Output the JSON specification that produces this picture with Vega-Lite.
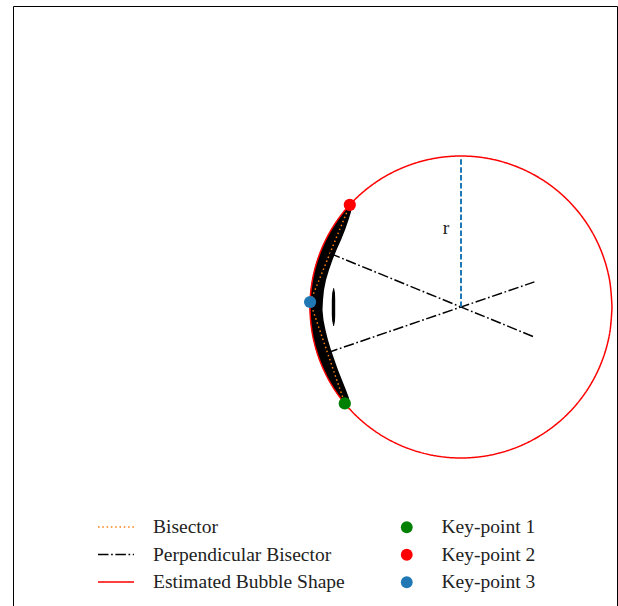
{
  "$schema": "https://vega.github.io/schema/vega-lite/v6.json",
  "width": 604,
  "height": 604,
  "autosize": {"type": "none"},
  "padding": {"left": 13, "top": 6, "right": 1, "bottom": 0},
  "background": "white",
  "config": {"view": {"stroke": "#000000", "strokeWidth": 1}, "font": "Liberation Serif"},
  "datasets": {
    "band": [
      {"part": "arc", "y": 204, "xo": 350, "xi": 352},
      {"part": "arc", "y": 212, "xo": 343.5, "xi": 351},
      {"part": "arc", "y": 220, "xo": 337.5, "xi": 348.5},
      {"part": "arc", "y": 230, "xo": 331, "xi": 345},
      {"part": "arc", "y": 240, "xo": 325.5, "xi": 341},
      {"part": "arc", "y": 250, "xo": 321, "xi": 336.5},
      {"part": "arc", "y": 260, "xo": 317.2, "xi": 332.5},
      {"part": "arc", "y": 270, "xo": 314.3, "xi": 329},
      {"part": "arc", "y": 280, "xo": 312.1, "xi": 326},
      {"part": "arc", "y": 290, "xo": 310.6, "xi": 324},
      {"part": "arc", "y": 300, "xo": 309.8, "xi": 323},
      {"part": "arc", "y": 310, "xo": 309.7, "xi": 322.5},
      {"part": "arc", "y": 320, "xo": 310.3, "xi": 323.5},
      {"part": "arc", "y": 330, "xo": 311.5, "xi": 325.5},
      {"part": "arc", "y": 340, "xo": 313.4, "xi": 328},
      {"part": "arc", "y": 350, "xo": 316, "xi": 331},
      {"part": "arc", "y": 360, "xo": 319.3, "xi": 334.5},
      {"part": "arc", "y": 370, "xo": 323.9, "xi": 338},
      {"part": "arc", "y": 380, "xo": 328.5, "xi": 342},
      {"part": "arc", "y": 390, "xo": 334.5, "xi": 346},
      {"part": "arc", "y": 398, "xo": 340.2, "xi": 349},
      {"part": "arc", "y": 405, "xo": 345.5, "xi": 349.5},
      {"part": "bar", "y": 288, "xo": 333.4, "xi": 334},
      {"part": "bar", "y": 293, "xo": 332.2, "xi": 335},
      {"part": "bar", "y": 300, "xo": 331.8, "xi": 335.2},
      {"part": "bar", "y": 315, "xo": 331.8, "xi": 335.2},
      {"part": "bar", "y": 321, "xo": 332.2, "xi": 335},
      {"part": "bar", "y": 326, "xo": 333.3, "xi": 334}
    ],
    "lines": [
      {"series": "Bisector", "seg": "b1", "i": 0, "x": 349.8, "y": 204.8},
      {"series": "Bisector", "seg": "b1", "i": 1, "x": 310.1, "y": 302},
      {"series": "Bisector", "seg": "b2", "i": 0, "x": 310.1, "y": 302},
      {"series": "Bisector", "seg": "b2", "i": 1, "x": 344.8, "y": 403.4},
      {"series": "Perpendicular Bisector", "seg": "p1", "i": 0, "x": 330, "y": 253.4},
      {"series": "Perpendicular Bisector", "seg": "p1", "i": 1, "x": 533.1, "y": 336.5},
      {"series": "Perpendicular Bisector", "seg": "p2", "i": 0, "x": 327.45, "y": 352.7},
      {"series": "Perpendicular Bisector", "seg": "p2", "i": 1, "x": 534.4, "y": 281.9},
      {"series": "Estimated Bubble Shape", "seg": "c", "i": 0, "x": 612, "y": 307},
      {"series": "Estimated Bubble Shape", "seg": "c", "i": 1, "x": 609.7, "y": 280.8},
      {"series": "Estimated Bubble Shape", "seg": "c", "i": 2, "x": 602.9, "y": 255.4},
      {"series": "Estimated Bubble Shape", "seg": "c", "i": 3, "x": 591.8, "y": 231.5},
      {"series": "Estimated Bubble Shape", "seg": "c", "i": 4, "x": 576.7, "y": 209.9},
      {"series": "Estimated Bubble Shape", "seg": "c", "i": 5, "x": 558.1, "y": 191.3},
      {"series": "Estimated Bubble Shape", "seg": "c", "i": 6, "x": 536.5, "y": 176.2},
      {"series": "Estimated Bubble Shape", "seg": "c", "i": 7, "x": 512.6, "y": 165.1},
      {"series": "Estimated Bubble Shape", "seg": "c", "i": 8, "x": 487.2, "y": 158.3},
      {"series": "Estimated Bubble Shape", "seg": "c", "i": 9, "x": 461, "y": 156},
      {"series": "Estimated Bubble Shape", "seg": "c", "i": 10, "x": 434.8, "y": 158.3},
      {"series": "Estimated Bubble Shape", "seg": "c", "i": 11, "x": 409.4, "y": 165.1},
      {"series": "Estimated Bubble Shape", "seg": "c", "i": 12, "x": 385.5, "y": 176.2},
      {"series": "Estimated Bubble Shape", "seg": "c", "i": 13, "x": 363.9, "y": 191.3},
      {"series": "Estimated Bubble Shape", "seg": "c", "i": 14, "x": 345.3, "y": 209.9},
      {"series": "Estimated Bubble Shape", "seg": "c", "i": 15, "x": 330.2, "y": 231.5},
      {"series": "Estimated Bubble Shape", "seg": "c", "i": 16, "x": 319.1, "y": 255.4},
      {"series": "Estimated Bubble Shape", "seg": "c", "i": 17, "x": 312.3, "y": 280.8},
      {"series": "Estimated Bubble Shape", "seg": "c", "i": 18, "x": 310, "y": 307},
      {"series": "Estimated Bubble Shape", "seg": "c", "i": 19, "x": 312.3, "y": 333.2},
      {"series": "Estimated Bubble Shape", "seg": "c", "i": 20, "x": 319.1, "y": 358.6},
      {"series": "Estimated Bubble Shape", "seg": "c", "i": 21, "x": 330.2, "y": 382.5},
      {"series": "Estimated Bubble Shape", "seg": "c", "i": 22, "x": 345.3, "y": 404.1},
      {"series": "Estimated Bubble Shape", "seg": "c", "i": 23, "x": 363.9, "y": 422.7},
      {"series": "Estimated Bubble Shape", "seg": "c", "i": 24, "x": 385.5, "y": 437.8},
      {"series": "Estimated Bubble Shape", "seg": "c", "i": 25, "x": 409.4, "y": 448.9},
      {"series": "Estimated Bubble Shape", "seg": "c", "i": 26, "x": 434.8, "y": 455.7},
      {"series": "Estimated Bubble Shape", "seg": "c", "i": 27, "x": 461, "y": 458},
      {"series": "Estimated Bubble Shape", "seg": "c", "i": 28, "x": 487.2, "y": 455.7},
      {"series": "Estimated Bubble Shape", "seg": "c", "i": 29, "x": 512.6, "y": 448.9},
      {"series": "Estimated Bubble Shape", "seg": "c", "i": 30, "x": 536.5, "y": 437.8},
      {"series": "Estimated Bubble Shape", "seg": "c", "i": 31, "x": 558.1, "y": 422.7},
      {"series": "Estimated Bubble Shape", "seg": "c", "i": 32, "x": 576.7, "y": 404.1},
      {"series": "Estimated Bubble Shape", "seg": "c", "i": 33, "x": 591.8, "y": 382.5},
      {"series": "Estimated Bubble Shape", "seg": "c", "i": 34, "x": 602.9, "y": 358.6},
      {"series": "Estimated Bubble Shape", "seg": "c", "i": 35, "x": 609.7, "y": 333.2},
      {"series": "Estimated Bubble Shape", "seg": "c", "i": 36, "x": 612, "y": 307}
    ],
    "rline": [
      {"i": 0, "x": 461, "y": 307},
      {"i": 1, "x": 461, "y": 157}
    ],
    "label": [
      {"text": "r", "x": 446, "y": 228}
    ],
    "keys": [
      {"key": "Key-point 1", "x": 344.8, "y": 403.4},
      {"key": "Key-point 2", "x": 349.8, "y": 204.8},
      {"key": "Key-point 3", "x": 310.1, "y": 302}
    ]
  },
  "layer": [
    {
      "data": {"name": "band"},
      "mark": {"type": "area", "orient": "horizontal", "color": "#000000", "interpolate": "linear"},
      "encoding": {
        "y": {"field": "y", "type": "quantitative", "scale": {"domain": [6, 610], "reverse": true, "nice": false, "zero": false}, "axis": null},
        "x": {"field": "xo", "type": "quantitative", "scale": {"domain": [13, 617], "nice": false, "zero": false}, "axis": null},
        "x2": {"field": "xi"},
        "detail": {"field": "part", "type": "nominal"}
      }
    },
    {
      "data": {"name": "lines"},
      "mark": {"type": "line", "strokeWidth": 1.5, "interpolate": "cardinal", "strokeCap": "butt"},
      "encoding": {
        "x": {"field": "x", "type": "quantitative", "scale": {"domain": [13, 617], "nice": false, "zero": false}, "axis": null},
        "y": {"field": "y", "type": "quantitative", "scale": {"domain": [6, 610], "reverse": true, "nice": false, "zero": false}, "axis": null},
        "detail": {"field": "seg", "type": "nominal"},
        "order": {"field": "i", "type": "quantitative"},
        "stroke": {
          "field": "series", "type": "nominal",
          "scale": {"domain": ["Bisector", "Perpendicular Bisector", "Estimated Bubble Shape"], "range": ["#ff7f0e", "#000000", "#ff0000"]},
          "legend": {"title": null, "orient": "none", "legendX": 92, "legendY": 510, "symbolType": "M-1.8,0H1.8", "symbolSize": 400, "symbolStrokeWidth": 1.5, "labelFont": "Liberation Serif", "labelFontSize": 19.5, "labelColor": "#222222", "labelOffset": 26, "rowPadding": 6.5, "padding": 0, "labelLimit": 400}
        },
        "strokeDash": {
          "field": "series", "type": "nominal",
          "scale": {"domain": ["Bisector", "Perpendicular Bisector", "Estimated Bubble Shape"], "range": [[1.5, 2.8], [10.5, 2.6, 1.7, 2.6], [1, 0]]},
          "legend": {"title": null, "orient": "none", "legendX": 92, "legendY": 510, "symbolType": "M-1.8,0H1.8", "symbolSize": 400, "symbolStrokeWidth": 1.5, "labelFont": "Liberation Serif", "labelFontSize": 19.5, "labelColor": "#222222", "labelOffset": 26, "rowPadding": 6.5, "padding": 0, "labelLimit": 400}
        }
      }
    },
    {
      "data": {"name": "rline"},
      "mark": {"type": "line", "color": "#1f77b4", "strokeWidth": 2, "strokeDash": [5.5, 2.4]},
      "encoding": {
        "x": {"field": "x", "type": "quantitative", "scale": {"domain": [13, 617], "nice": false, "zero": false}, "axis": null},
        "y": {"field": "y", "type": "quantitative", "scale": {"domain": [6, 610], "reverse": true, "nice": false, "zero": false}, "axis": null},
        "order": {"field": "i", "type": "quantitative"}
      }
    },
    {
      "data": {"name": "label"},
      "mark": {"type": "text", "font": "Liberation Serif", "fontSize": 19.5, "color": "#222222", "baseline": "middle", "align": "center"},
      "encoding": {
        "x": {"field": "x", "type": "quantitative", "scale": {"domain": [13, 617], "nice": false, "zero": false}, "axis": null},
        "y": {"field": "y", "type": "quantitative", "scale": {"domain": [6, 610], "reverse": true, "nice": false, "zero": false}, "axis": null},
        "text": {"field": "text", "type": "nominal"}
      }
    },
    {
      "data": {"name": "keys"},
      "mark": {"type": "point", "filled": true, "size": 150, "opacity": 1, "shape": "circle"},
      "encoding": {
        "x": {"field": "x", "type": "quantitative", "scale": {"domain": [13, 617], "nice": false, "zero": false}, "axis": null},
        "y": {"field": "y", "type": "quantitative", "scale": {"domain": [6, 610], "reverse": true, "nice": false, "zero": false}, "axis": null},
        "fill": {
          "field": "key", "type": "nominal",
          "scale": {"domain": ["Key-point 1", "Key-point 2", "Key-point 3"], "range": ["#008000", "#ff0000", "#1f77b4"]},
          "legend": {"title": null, "orient": "none", "legendX": 384, "legendY": 511.5, "symbolType": "circle", "symbolSize": 140, "symbolStrokeWidth": 0, "labelFont": "Liberation Serif", "labelFontSize": 19.5, "labelColor": "#222222", "labelOffset": 25, "rowPadding": 6.5, "padding": 0, "labelLimit": 400}
        }
      }
    }
  ]
}
